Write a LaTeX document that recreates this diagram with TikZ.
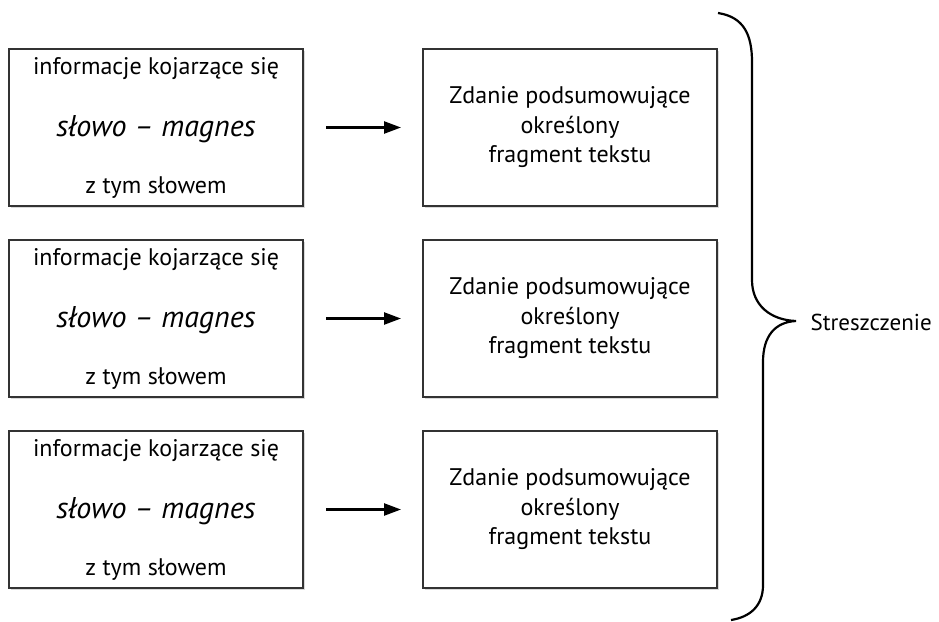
\documentclass[tikz,border=0pt]{standalone}
\usepackage{fontspec}
\setmainfont{PT Sans}
\usetikzlibrary{arrows.meta,positioning,shadows}

\begin{document}
\begin{tikzpicture}[x=1pt,y=-1pt,>={Triangle[length=17pt,width=12pt]},node distance=32pt and 118pt,
  kbox/.style={draw=black!80,line width=2pt,fill=white,minimum width=294pt,minimum height=157pt,align=center,font=\fontsize{24}{29.5}\selectfont,
    drop shadow={shadow xshift=2pt,shadow yshift=-2pt,opacity=0.3}},
  strz/.style={line width=2.4pt,shorten <=22pt,shorten >=21pt}]
\useasboundingbox (0,0) rectangle (939,621);
\node[kbox] (l1) at (156,127.5) {informacje kojarzące się\\[33pt]{\itshape\fontsize{30}{29.5}\selectfont słowo – magnes}\\[27pt]z tym słowem};
\node[kbox,below=of l1] (l2) {informacje kojarzące się\\[33pt]{\itshape\fontsize{30}{29.5}\selectfont słowo – magnes}\\[27pt]z tym słowem};
\node[kbox,below=of l2] (l3) {informacje kojarzące się\\[33pt]{\itshape\fontsize{30}{29.5}\selectfont słowo – magnes}\\[27pt]z tym słowem};
\node[kbox,right=of l1] (r1) {Zdanie podsumowujące\\określony\\fragment tekstu};
\node[kbox,right=of l2] (r2) {Zdanie podsumowujące\\określony\\fragment tekstu};
\node[kbox,right=of l3] (r3) {Zdanie podsumowujące\\określony\\fragment tekstu};
\draw[->,strz] (l1)--(r1);\draw[->,strz] (l2)--(r2);\draw[->,strz] (l3)--(r3);
% klamra
\node[font=\fontsize{23}{29.5}\selectfont,anchor=west] (s) at (807,322) {Streszczenie};
\draw[line width=2.2pt] (718,13) .. controls (744,17) and (752,35) .. (752,62) -- (752,280)
  .. controls (752,305) and (770,320) .. (796,321) .. controls (775,322) and (763,336) .. (763,362)
  -- (763,585) .. controls (763,606) and (750,617) .. (731,620);
\end{tikzpicture}
\end{document}
